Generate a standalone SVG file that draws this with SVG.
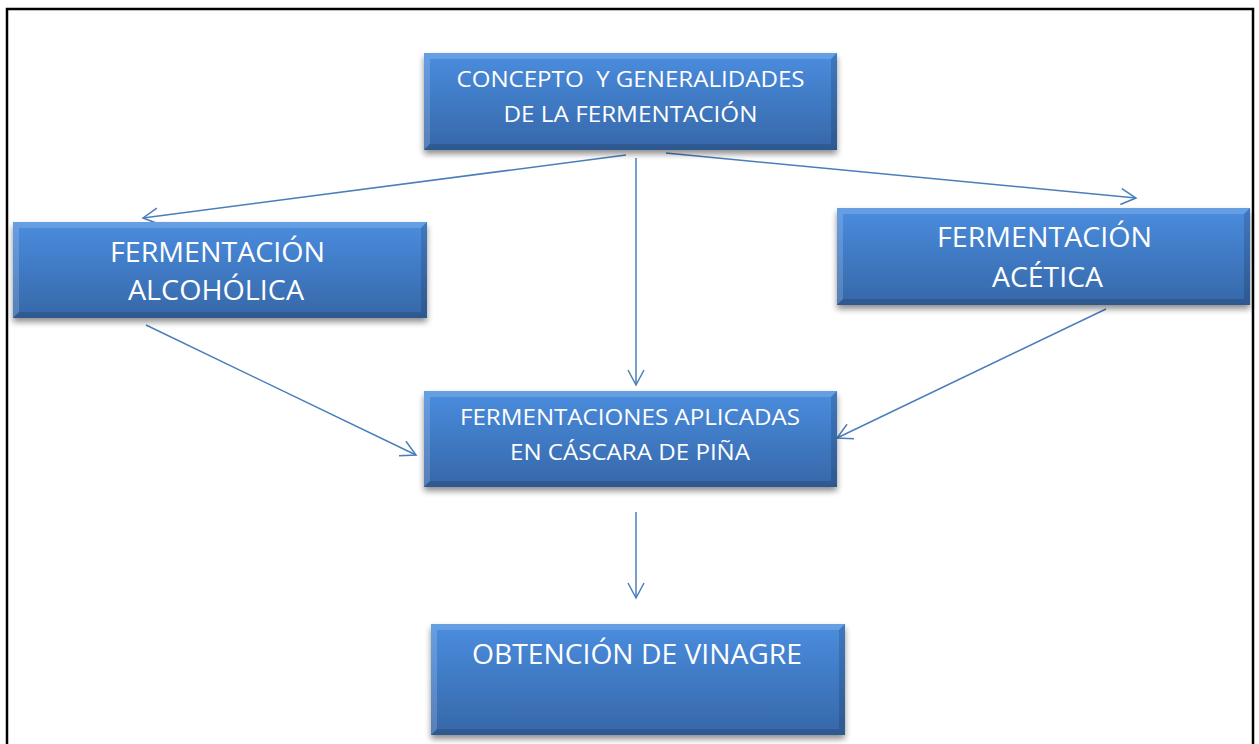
<svg xmlns="http://www.w3.org/2000/svg" width="1259" height="744" viewBox="0 0 1259 744">
<style>
.frame{fill:none;stroke:#000;stroke-width:2.5}
.box{fill:url(#g)}
.hl{fill:#fff;opacity:0.16}
.sh{fill:#000;opacity:0.14}
.t{font-family:"Open Sans","Liberation Sans",sans-serif;fill:#fff;text-anchor:middle;white-space:pre}
.s21{font-size:21px}
.s27{font-size:27px}
.c{fill:none;stroke:#4a7ebb;stroke-width:1.5;marker-end:url(#a)}
</style>
<defs>
<linearGradient id="g" x1="0" y1="0" x2="0" y2="1">
<stop offset="0" stop-color="#4a8ddf"/>
<stop offset="1" stop-color="#3667a8"/>
</linearGradient>
<filter id="ds" x="-5%" y="-10%" width="110%" height="130%">
<feGaussianBlur in="SourceAlpha" stdDeviation="3"/>
<feOffset dx="0" dy="4"/>
<feComponentTransfer><feFuncA type="linear" slope="0.45"/></feComponentTransfer>
<feMerge><feMergeNode/><feMergeNode in="SourceGraphic"/></feMerge>
</filter>
<marker id="a" markerUnits="userSpaceOnUse" markerWidth="20" markerHeight="20" viewBox="-17 -10 20 20" refX="0" refY="0" orient="auto">
<path d="M-15,-8 L0,0 L-15,8" fill="none" stroke="#4a7ebb" stroke-width="1.5"/>
</marker>
</defs>
<rect width="1259" height="744" fill="#fff"/>
<rect class="frame" x="7" y="9" width="1246" height="760"/>

<g id="connectors">
<line class="c" x1="626" y1="155" x2="143" y2="218"/>
<line class="c" x1="636" y1="158" x2="636" y2="385"/>
<line class="c" x1="666" y1="153" x2="1136" y2="198"/>
<line class="c" x1="146" y1="325" x2="416" y2="455"/>
<line class="c" x1="1106" y1="309" x2="837" y2="438"/>
<line class="c" x1="636" y1="512" x2="636" y2="598"/>
</g>

<g id="n-concepto" transform="translate(424,53)">
<rect class="box" width="413" height="97" filter="url(#ds)"/>
<polygon class="hl" points="0,0 413,0 407,6 6,6"/>
<polygon class="hl" points="0,0 6,6 6,91 0,97"/>
<polygon class="sh" points="0,97 413,97 407,91 6,91"/>
<polygon class="sh" points="413,0 407,6 407,91 413,97"/>
<text class="t s21" x="206.5" y="34" textLength="348" lengthAdjust="spacingAndGlyphs" xml:space="preserve">CONCEPTO  Y GENERALIDADES</text>
<text class="t s21" x="206.5" y="69" textLength="254" lengthAdjust="spacingAndGlyphs">DE LA FERMENTACIÓN</text>
</g>

<g id="n-alcoholica" transform="translate(13,222)">
<rect class="box" width="414" height="96" filter="url(#ds)"/>
<polygon class="hl" points="0,0 414,0 408,6 6,6"/>
<polygon class="hl" points="0,0 6,6 6,90 0,96"/>
<polygon class="sh" points="0,96 414,96 408,90 6,90"/>
<polygon class="sh" points="414,0 408,6 408,90 414,96"/>
<text class="t s27" x="204.5" y="40" textLength="215" lengthAdjust="spacingAndGlyphs">FERMENTACIÓN</text>
<text class="t s27" x="203" y="78" textLength="176" lengthAdjust="spacingAndGlyphs">ALCOHÓLICA</text>
</g>

<g id="n-acetica" transform="translate(837,208)">
<rect class="box" width="413" height="97" filter="url(#ds)"/>
<polygon class="hl" points="0,0 413,0 407,6 6,6"/>
<polygon class="hl" points="0,0 6,6 6,91 0,97"/>
<polygon class="sh" points="0,97 413,97 407,91 6,91"/>
<polygon class="sh" points="413,0 407,6 407,91 413,97"/>
<text class="t s27" x="207.5" y="39" textLength="215" lengthAdjust="spacingAndGlyphs">FERMENTACIÓN</text>
<text class="t s27" x="210.5" y="79" textLength="111" lengthAdjust="spacingAndGlyphs">ACÉTICA</text>
</g>

<g id="n-aplicadas" transform="translate(424,391)">
<rect class="box" width="413" height="96" filter="url(#ds)"/>
<polygon class="hl" points="0,0 413,0 407,6 6,6"/>
<polygon class="hl" points="0,0 6,6 6,90 0,96"/>
<polygon class="sh" points="0,96 413,96 407,90 6,90"/>
<polygon class="sh" points="413,0 407,6 407,90 413,96"/>
<text class="t s21" x="206" y="34" textLength="340" lengthAdjust="spacingAndGlyphs">FERMENTACIONES APLICADAS</text>
<text class="t s21" x="206" y="69" textLength="240" lengthAdjust="spacingAndGlyphs">EN CÁSCARA DE PIÑA</text>
</g>

<g id="n-vinagre" transform="translate(431,624)">
<rect class="box" width="414" height="111" filter="url(#ds)"/>
<polygon class="hl" points="0,0 414,0 408,6 6,6"/>
<polygon class="hl" points="0,0 6,6 6,105 0,111"/>
<polygon class="sh" points="0,111 414,111 408,105 6,105"/>
<polygon class="sh" points="414,0 408,6 408,105 414,111"/>
<text class="t s27" x="206" y="40" textLength="330" lengthAdjust="spacingAndGlyphs">OBTENCIÓN DE VINAGRE</text>
</g>
</svg>
